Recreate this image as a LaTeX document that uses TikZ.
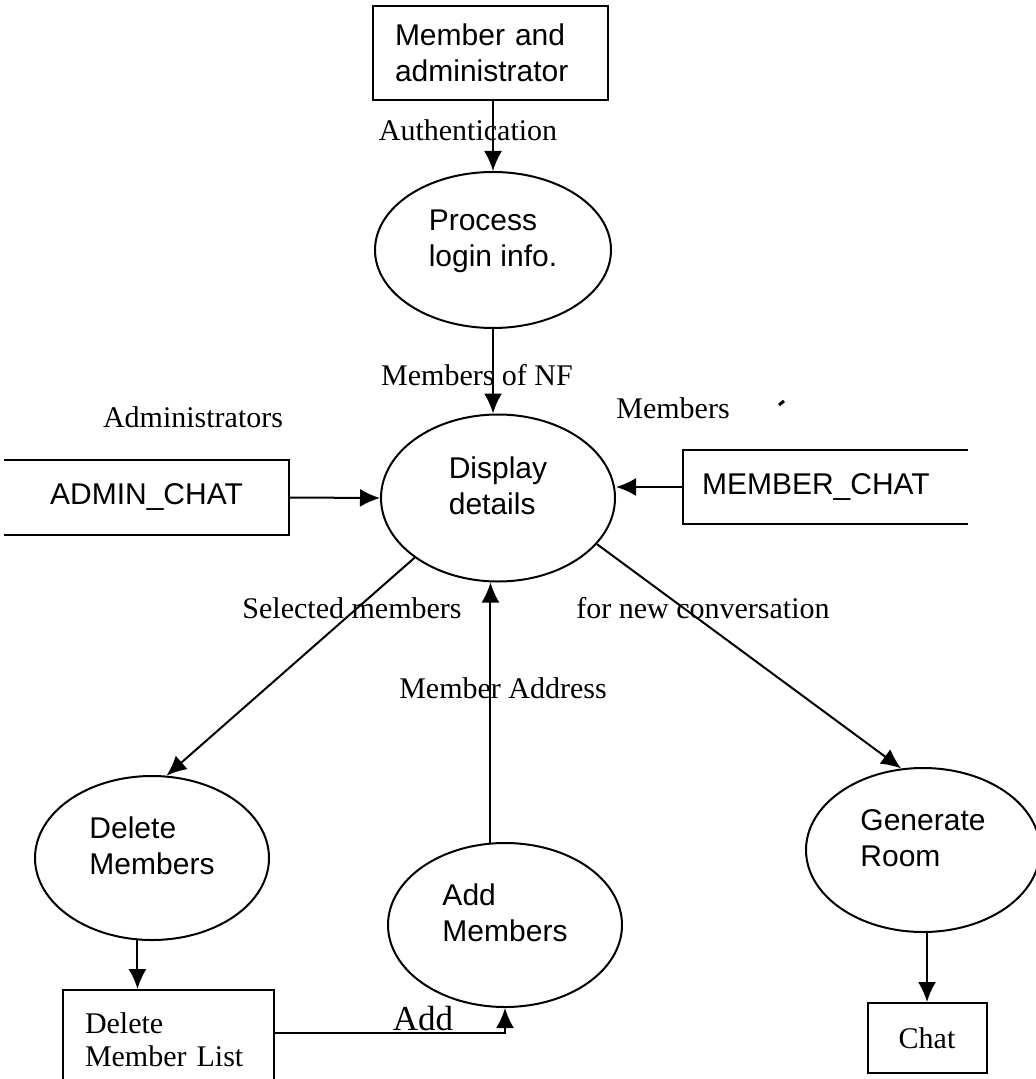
\documentclass[tikz,border=0pt]{standalone}
\usepackage{fontspec}
\setmainfont{Liberation Serif}
\setsansfont{Liberation Sans}
\usetikzlibrary{shapes.geometric,arrows.meta,calc}
\newcommand{\dfdsans}{\sffamily\fontsize{15pt}{18pt}\selectfont}
\newcommand{\dfdserif}{\rmfamily\fontsize{15pt}{16.5pt}\selectfont}
\tikzset{
	>={Latex[length=10pt,width=9pt]},
	flow/.style={->},
	proc/.style={ellipse, draw, minimum width=117pt, minimum height=82pt, inner sep=0pt,
		align=left, font=\dfdsans, execute at end node={\rule[-12pt]{0pt}{0pt}}},
	entity/.style={rectangle, draw, align=left, font=\dfdsans},
	store/.style={rectangle, inner sep=0pt, font=\dfdsans},
	lbl/.style={inner sep=0pt, font=\dfdserif},
}

\begin{document}
\begin{tikzpicture}[x=0.5pt, y=-0.5pt, line width=1pt]
	\useasboundingbox (0,0) rectangle (1036,1079);
	\clip (0,0) rectangle (1036,1079);

	% external entity and processes
	\node[entity, minimum width=117.5pt, minimum height=47pt, text width=95.5pt, inner xsep=11pt] (memadm) at (490.5,53) {Member and\\administrator};
	\node[proc, minimum width=118pt, minimum height=78pt] (login) at (493,250) {Process\\login info.};
	\node[proc, minimum height=83.5pt] (display) at (498,498) {Display\\details};
	\node[proc] (delmem) at (152,858) {Delete\\Members};
	\node[proc] (addmem) at (505,925) {Add\\Members};
	\node[proc] (genroom) at (923,850) {Generate\\Room};

	% data stores
	\node[store, minimum width=141.5pt, minimum height=36.5pt] (admin) at (146.5,497.5) {ADMIN\_CHAT};
	\draw (admin.north west) -- (admin.north east) -- (admin.south east) -- (admin.south west);
	\node[store, minimum width=141.5pt, minimum height=36pt, text width=123.5pt, inner xsep=9pt] (mchat) at (825.5,487) {MEMBER\_CHAT};
	\draw (mchat.north east) -- (mchat.north west) -- (mchat.south west) -- (mchat.south east);

	\node[entity, minimum width=105.5pt, minimum height=50pt, text width=83.5pt, inner xsep=11pt, font=\dfdserif] (dlist) at (168.5,1040) {Delete\\Member List};
	\node[entity, minimum width=59.5pt, minimum height=35pt, font=\dfdserif] (chat) at (927,1038) {Chat};

	% flows
	\draw[flow] (memadm.south -| login.north) -- (login.north);
	\draw[flow] (login.south) -- (login.south |- display.north);
	\draw[flow] (admin.east) -- (display.west);
	\draw[flow] (mchat.west) -- (mchat.west -| display.east);
	\draw[flow] (display.south west) -- (delmem.80);
	\draw[flow] (display.-25) -- (genroom.105);
	\draw[flow] (addmem.100) -- (addmem.100 |- display.south);
	\draw[flow] (delmem.260) -- (delmem.260 |- dlist.north);
	\draw[flow] ([yshift=3.5pt]dlist.east) -| (addmem.south);
	\draw[flow] (chat.north |- genroom.south) -- (chat.north);

	% labels
	\node[lbl] (authlbl) at (468,130) {Authentication};
	\node[lbl] (nflbl) at (477,375) {Members of NF};
	\node[lbl] (adminlbl) at (193,417) {Administrators};
	\node[lbl] (memlbl) at (673,408) {Members};
	\draw[line width=1.5pt] (779,405) -- (784,401);
	\node[lbl] (sellbl) at (352,608) {Selected members};
	\node[lbl] (convlbl) at (703,608) {for new conversation};
	\node[lbl] (addrlbl) at (503,688) {Member Address};
	\node[lbl, font=\rmfamily\fontsize{17.5pt}{20pt}\selectfont] (addlbl) at (423,1019) {Add};
\end{tikzpicture}
\end{document}
